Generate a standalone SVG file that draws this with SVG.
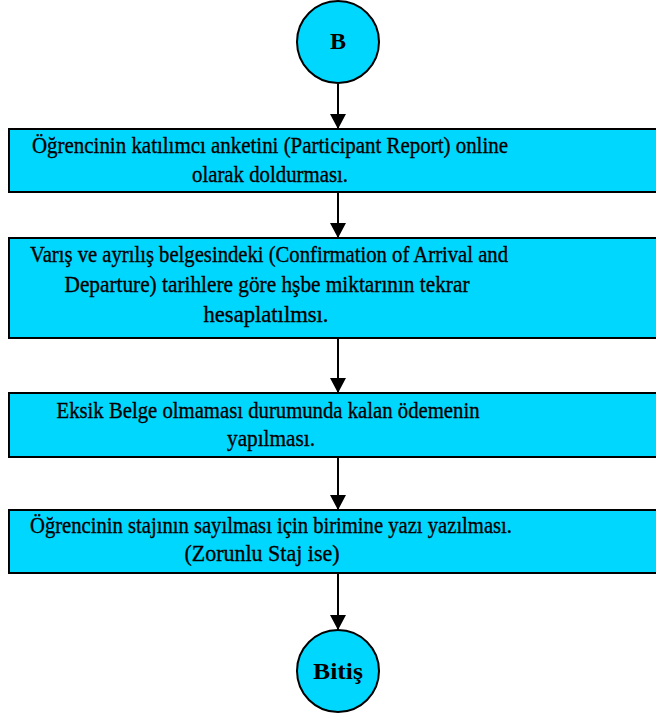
<svg xmlns="http://www.w3.org/2000/svg" width="656" height="717" viewBox="0 0 656 717">
<style>
.box{fill:#00D7FF;stroke:#000;stroke-width:2}
.circ{fill:#00D7FF;stroke:#000;stroke-width:2}
.t{font-family:"Liberation Serif","DejaVu Serif",serif;font-size:23px;fill:#000;stroke:#000;stroke-width:0.35;text-anchor:middle}
.tb{font-family:"Liberation Serif","DejaVu Serif",serif;font-size:24px;font-weight:bold;fill:#000;text-anchor:middle}
.c{stroke:#000;stroke-width:2;fill:none;marker-end:url(#ah)}
</style>
<defs>
<marker id="ah" viewBox="0 0 15 16" refX="15" refY="8" markerWidth="15" markerHeight="16" markerUnits="userSpaceOnUse" orient="auto">
<path d="M0,0 L15,8 L0,16 z" fill="#000"/>
</marker>
</defs>
<g id="connectors">
<line class="c" x1="338" y1="84" x2="338" y2="129"/>
<line class="c" x1="338" y1="193" x2="338" y2="238"/>
<line class="c" x1="338" y1="339" x2="338" y2="393"/>
<line class="c" x1="338" y1="458" x2="338" y2="510"/>
<line class="c" x1="338" y1="574" x2="338" y2="630"/>
</g>
<g id="start">
<circle class="circ" cx="338" cy="42" r="41"/>
<text class="tb" x="338" y="49">B</text>
</g>
<g id="step1">
<rect class="box" x="9" y="129" width="660" height="63"/>
<text class="t" x="270" y="153" textLength="476" lengthAdjust="spacingAndGlyphs">Öğrencinin katılımcı anketini (Participant Report) online</text>
<text class="t" x="270" y="182" textLength="156" lengthAdjust="spacingAndGlyphs">olarak doldurması.</text>
</g>
<g id="step2">
<rect class="box" x="9" y="238" width="660" height="100"/>
<text class="t" x="269" y="262" textLength="478" lengthAdjust="spacingAndGlyphs">Varış ve ayrılış belgesindeki (Confirmation of Arrival and</text>
<text class="t" x="267" y="292" textLength="405" lengthAdjust="spacingAndGlyphs">Departure) tarihlere göre hşbe miktarının tekrar</text>
<text class="t" x="266" y="322" textLength="125" lengthAdjust="spacingAndGlyphs">hesaplatılmsı.</text>
</g>
<g id="step3">
<rect class="box" x="9" y="393" width="660" height="64"/>
<text class="t" x="268" y="418" textLength="423" lengthAdjust="spacingAndGlyphs">Eksik Belge olmaması durumunda kalan ödemenin</text>
<text class="t" x="271" y="446" textLength="88" lengthAdjust="spacingAndGlyphs">yapılması.</text>
</g>
<g id="step4">
<rect class="box" x="9" y="510" width="660" height="63"/>
<text class="t" x="271" y="533" textLength="482" lengthAdjust="spacingAndGlyphs">Öğrencinin stajının sayılması için birimine yazı yazılması.</text>
<text class="t" x="262" y="561" textLength="155" lengthAdjust="spacingAndGlyphs">(Zorunlu Staj ise)</text>
</g>
<g id="end">
<circle class="circ" cx="338" cy="671" r="41"/>
<text class="tb" x="338" y="679" textLength="50" lengthAdjust="spacingAndGlyphs">Bitiş</text>
</g>
</svg>
